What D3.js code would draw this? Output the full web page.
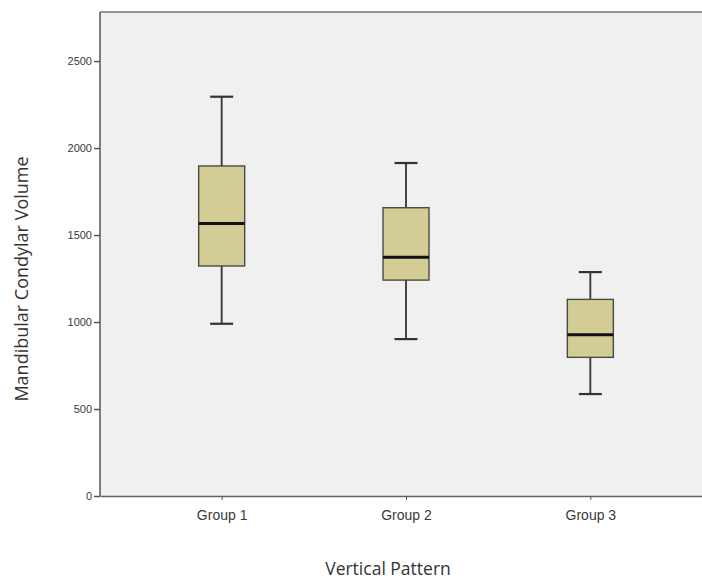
<!DOCTYPE html>
<html lang="en">
<head>
    <meta charset="UTF-8">
    <script src="https://d3js.org/d3.v7.min.js"></script>
    <style>
        body { margin: 0; background: #fff; font-family: "Open Sans", "Noto Sans", Arial, sans-serif; overflow: hidden; }
        .tick text { fill: #3a3a3a; }
        .axis-title { fill: #333; }
    </style>
</head>
<body>
    <svg id="chart"></svg>
    <script>
        // values
        const groups = ["Group 1", "Group 2", "Group 3"];
        const whiskerLow = [990, 902, 586];
        const q1 = [1322, 1241, 797];
        const median = [1567, 1372, 927];
        const q3 = [1897, 1657, 1130];
        const whiskerHigh = [2295, 1914, 1287];
        const yTicks = [0, 500, 1000, 1500, 2000, 2500];

        const width = 702, height = 581;
        const plotLeft = 100, plotTop = 12, plotBottom = 496, plotRight = 712;

        const svg = d3.select("#chart").attr("width", width).attr("height", height);

        const data = groups.map((g, i) => ({
            g, lo: whiskerLow[i], q1: q1[i], med: median[i], q3: q3[i], hi: whiskerHigh[i]
        }));

        const x = d3.scalePoint().domain(groups).range([plotLeft, plotRight]).padding(0.66);
        const y = d3.scaleLinear().domain([0, 2782]).range([plotBottom, plotTop]);

        // plot background
        svg.append("rect")
            .attr("x", plotLeft).attr("y", plotTop)
            .attr("width", plotRight - plotLeft).attr("height", plotBottom - plotTop)
            .attr("fill", "#f0f0f0");

        // top frame
        svg.append("line")
            .attr("x1", plotLeft).attr("x2", plotRight)
            .attr("y1", plotTop).attr("y2", plotTop)
            .attr("stroke", "#777").attr("stroke-width", 1.5);

        const yAxis = svg.append("g")
            .attr("transform", `translate(${plotLeft},0)`)
            .call(d3.axisLeft(y).tickValues(yTicks).tickFormat(d3.format("d"))
                .tickSize(6).tickPadding(2).tickSizeOuter(0));
        yAxis.select(".domain").attr("stroke", "#555").attr("stroke-width", 1.5)
            .attr("d", `M0,${plotTop}V${plotBottom}`);
        yAxis.selectAll(".tick line").attr("stroke", "#555").attr("stroke-width", 1.5);
        yAxis.selectAll("text").style("font-size", "11px").attr("font-family", null);

        const xAxis = svg.append("g")
            .attr("transform", `translate(0,${plotBottom})`)
            .call(d3.axisBottom(x).tickSize(4).tickPadding(10).tickSizeOuter(0));
        xAxis.select(".domain").attr("stroke", "#666").attr("stroke-width", 1.5);
        xAxis.selectAll(".tick line").attr("stroke", "#555").attr("stroke-width", 1);
        xAxis.selectAll("text").style("font-size", "14px").attr("font-family", null);

        const boxW = 46, capW = 23;
        const box = svg.selectAll(".box").data(data).enter().append("g").attr("class", "box");

        box.append("line")
            .attr("x1", d => x(d.g)).attr("x2", d => x(d.g))
            .attr("y1", d => y(d.hi)).attr("y2", d => y(d.lo))
            .attr("stroke", "#333").attr("stroke-width", 1.8);
        box.append("line")
            .attr("x1", d => x(d.g) - capW / 2).attr("x2", d => x(d.g) + capW / 2)
            .attr("y1", d => y(d.hi)).attr("y2", d => y(d.hi))
            .attr("stroke", "#333").attr("stroke-width", 2.2);
        box.append("line")
            .attr("x1", d => x(d.g) - capW / 2).attr("x2", d => x(d.g) + capW / 2)
            .attr("y1", d => y(d.lo)).attr("y2", d => y(d.lo))
            .attr("stroke", "#333").attr("stroke-width", 2.2);
        box.append("rect")
            .attr("x", d => x(d.g) - boxW / 2)
            .attr("y", d => y(d.q3))
            .attr("width", boxW)
            .attr("height", d => y(d.q1) - y(d.q3))
            .attr("fill", "#d3cd95")
            .attr("stroke", "#4a4a44").attr("stroke-width", 1.4);
        box.append("line")
            .attr("x1", d => x(d.g) - boxW / 2).attr("x2", d => x(d.g) + boxW / 2)
            .attr("y1", d => y(d.med)).attr("y2", d => y(d.med))
            .attr("stroke", "#111").attr("stroke-width", 3);

        svg.append("text")
            .attr("class", "axis-title")
            .attr("x", 388).attr("y", 575)
            .attr("text-anchor", "middle")
            .style("font-size", "17.5px")
            .text("Vertical Pattern");

        svg.append("text")
            .attr("class", "axis-title")
            .attr("transform", "translate(28,279) rotate(-90)")
            .attr("text-anchor", "middle")
            .style("font-size", "18px")
            .text("Mandibular Condylar Volume");
    </script>
</body>
</html>
